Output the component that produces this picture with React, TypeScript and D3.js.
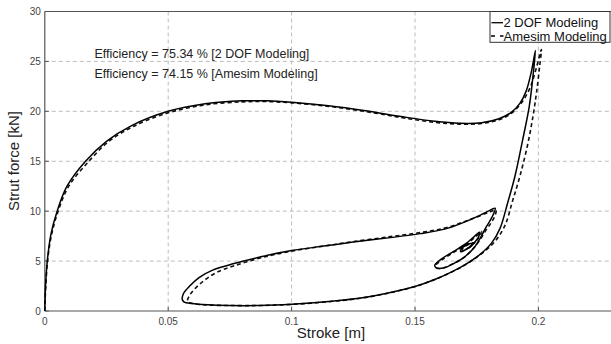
import React from "react";
import * as d3 from "d3";

// 2 DOF model: stroke [m] / strut force [kN], in path order
const dofStroke = [
  0, 0.0001, 0.0003, 0.001, 0.0025, 0.005, 0.009, 0.0165, 0.025, 0.035, 0.05, 0.065, 0.08, 0.09, 0.1, 0.115, 0.13, 0.145, 0.158, 0.168, 0.177, 0.184, 0.189, 0.1925, 0.195, 0.197, 0.1988,
  0.1978, 0.1963, 0.1935, 0.1905, 0.1875, 0.1845, 0.181, 0.1765, 0.171, 0.1655, 0.158, 0.15, 0.14, 0.128, 0.115, 0.1, 0.087, 0.075, 0.066, 0.0595, 0.0565, 0.0557,
  0.0562, 0.0585, 0.0625, 0.068, 0.0767, 0.088, 0.1, 0.113, 0.125, 0.14, 0.152, 0.162, 0.17, 0.1765, 0.1805, 0.1825,
  0.1812, 0.1788, 0.1762, 0.1735, 0.17, 0.166, 0.1615, 0.1585, 0.158, 0.1601, 0.1655, 0.1709, 0.1742, 0.1762, 0.1755, 0.172, 0.1685, 0.169, 0.1725, 0.1735, 0.1712,
];
const dofForce = [
  0, 1, 2.5, 5, 7.7, 10, 12.5, 15, 17.0, 18.55, 20, 20.75, 21.05, 21.05, 20.9, 20.55, 20.05, 19.45, 19.0, 18.8, 18.85, 19.25, 19.9, 20.8, 22, 23.8, 26.1,
  23.5, 20.5, 17, 13.5, 10.8, 8.3, 6.8, 5.7, 4.75, 4.0, 3.15, 2.45, 1.85, 1.3, 0.95, 0.68, 0.55, 0.55, 0.62, 0.75, 0.9, 1.15,
  1.75, 2.45, 3.35, 4.1, 4.75, 5.45, 6.05, 6.5, 6.9, 7.35, 7.75, 8.2, 8.9, 9.6, 10.1, 10.3,
  9.4, 8.4, 7.2, 6.2, 5.4, 4.8, 4.3, 4.35, 4.6, 5.1, 5.95, 6.8, 7.5, 7.9, 7.3, 6.4, 5.95, 6.3, 6.75, 6.7, 6.25,
];

// Amesim model
const amesimStroke = [
  0, 0.0001, 0.0004, 0.0011, 0.0027, 0.0054, 0.0097, 0.0175, 0.026, 0.036, 0.05, 0.065, 0.08, 0.09, 0.1, 0.115, 0.13, 0.145, 0.158, 0.168, 0.177, 0.184, 0.189, 0.193, 0.1965, 0.199, 0.2012,
  0.2005, 0.1993, 0.1978, 0.1955, 0.1925, 0.1895, 0.1865, 0.1825, 0.1775, 0.1715, 0.1658, 0.158, 0.15, 0.14, 0.128, 0.115, 0.1, 0.087, 0.075, 0.066, 0.0605, 0.0585, 0.0578,
  0.0585, 0.0603, 0.064, 0.0695, 0.077, 0.088, 0.1, 0.113, 0.125, 0.14, 0.152, 0.162, 0.17, 0.1765, 0.1805, 0.1828,
  0.1825, 0.181, 0.1785, 0.176, 0.173, 0.1695, 0.1655, 0.1612, 0.1588, 0.1585, 0.1605, 0.1655, 0.171, 0.1748, 0.177, 0.176, 0.1725, 0.1692, 0.1695, 0.173, 0.1742, 0.1718,
];
const amesimForce = [
  0, 1, 2.5, 5, 7.6, 10, 12.5, 14.9, 17.0, 18.5, 19.85, 20.65, 20.95, 20.98, 20.85, 20.5, 19.98, 19.35, 18.9, 18.72, 18.78, 19.15, 19.8, 20.8, 22.3, 24.2, 26.2,
  24.5, 22, 19.5, 16.5, 13.5, 11, 8.6, 7.0, 5.85, 4.8, 4.02, 3.15, 2.45, 1.83, 1.28, 0.93, 0.66, 0.55, 0.55, 0.6, 0.72, 0.85, 1.0,
  1.5, 2.1, 2.95, 3.85, 4.55, 5.35, 6.0, 6.5, 6.95, 7.45, 7.85, 8.3, 8.95, 9.55, 9.95, 10.1,
  9.6, 8.9, 8.0, 7.0, 6.1, 5.3, 4.75, 4.3, 4.3, 4.6, 5.05, 5.85, 6.7, 7.5, 7.95, 7.4, 6.5, 6.0, 6.3, 6.8, 6.85, 6.3,
];

const xTicks = [0, 0.05, 0.1, 0.15, 0.2];
const xTickLabels = ["0", "0.05", "0.1", "0.15", "0.2"];
const yTicks = [0, 5, 10, 15, 20, 25, 30];

const legendLabels = ["2 DOF Modeling", "Amesim Modeling"];
const notes = ["Efficiency = 75.34 % [2 DOF Modeling]", "Efficiency = 74.15 % [Amesim Modeling]"];

const W = 611;
const H = 344;
const FONT = "'Liberation Sans', Arial, Helvetica, sans-serif";

export default function App() {
  const x = d3.scaleLinear().domain([0, 0.25]).range([44.8, 661.8]);
  const y = d3.scaleLinear().domain([0, 30]).range([311, 11.5]);

  const line = d3
    .line<[number, number]>()
    .x((d) => x(d[0]))
    .y((d) => y(d[1]))
    .curve(d3.curveCatmullRom.alpha(0.5));

  const dofPts = dofStroke.map((s, i) => [s, dofForce[i]] as [number, number]);
  const amePts = amesimStroke.map((s, i) => [s, amesimForce[i]] as [number, number]);

  const left = x(0);
  const bottom = y(0);
  const top = y(30);

  return (
    <svg width={W} height={H} style={{ position: "absolute", left: 0, top: 0, background: "#fff" }}>
      {/* grid */}
      {xTicks.slice(1).map((t) => (
        <line key={"gx" + t} x1={x(t)} x2={x(t)} y1={top} y2={bottom} stroke="#bdbdbd" strokeDasharray="4,3" />
      ))}
      {yTicks.slice(1, -1).map((t) => (
        <line key={"gy" + t} x1={left} x2={W} y1={y(t)} y2={y(t)} stroke="#bdbdbd" strokeDasharray="4,3" />
      ))}

      {/* axes frame */}
      <line x1={left} x2={W} y1={bottom} y2={bottom} stroke="#555" strokeWidth={1.2} />
      <line x1={left} x2={W} y1={top} y2={top} stroke="#555" strokeWidth={1.2} />
      <line x1={left} x2={left} y1={top} y2={bottom} stroke="#555" strokeWidth={1.2} />
      {xTicks.map((t) => (
        <line key={"tx" + t} x1={x(t)} x2={x(t)} y1={bottom} y2={bottom - 4} stroke="#555" />
      ))}
      {yTicks.map((t) => (
        <line key={"ty" + t} x1={left} x2={left + 4} y1={y(t)} y2={y(t)} stroke="#555" />
      ))}

      {/* tick labels */}
      {xTicks.map((t, i) => (
        <text key={"lx" + t} x={x(t)} y={bottom + 14} textAnchor="middle" fontSize={10} fontFamily={FONT} fill="#444">
          {xTickLabels[i]}
        </text>
      ))}
      {yTicks.map((t) => (
        <text key={"ly" + t} x={left - 4} y={y(t) + 3.5} textAnchor="end" fontSize={10} fontFamily={FONT} fill="#444">
          {t}
        </text>
      ))}

      {/* axis titles */}
      <text x={331} y={338} textAnchor="middle" fontSize={15} fontFamily={FONT} fill="#222">
        Stroke [m]
      </text>
      <text transform="translate(19,161) rotate(-90)" textAnchor="middle" fontSize={15} fontFamily={FONT} fill="#222">
        Strut force [kN]
      </text>

      {/* curves */}
      <path d={line(amePts) ?? ""} fill="none" stroke="#111" strokeWidth={1.6} strokeDasharray="4,3" />
      <path d={line(dofPts) ?? ""} fill="none" stroke="#000" strokeWidth={1.5} />

      {/* annotations */}
      {notes.map((n, i) => (
        <text key={n} x={94.5} y={57.5 + i * 20} fontSize={12.5} fontFamily={FONT} fill="#222">
          {n}
        </text>
      ))}

      {/* legend */}
      <rect x={490} y={top} width={120} height={30.8} fill="#fff" stroke="#333" strokeWidth={1} />
      <line x1={491.5} x2={503} y1={22.7} y2={22.7} stroke="#000" strokeWidth={1.3} />
      <line x1={491} x2={503.5} y1={36} y2={36} stroke="#000" strokeWidth={1.3} strokeDasharray="4,5" />
      {legendLabels.map((l, i) => (
        <text key={l} x={503.5} y={27.2 + i * 13.5} fontSize={13} fontFamily={FONT} fill="#111">
          {l}
        </text>
      ))}
    </svg>
  );
}
